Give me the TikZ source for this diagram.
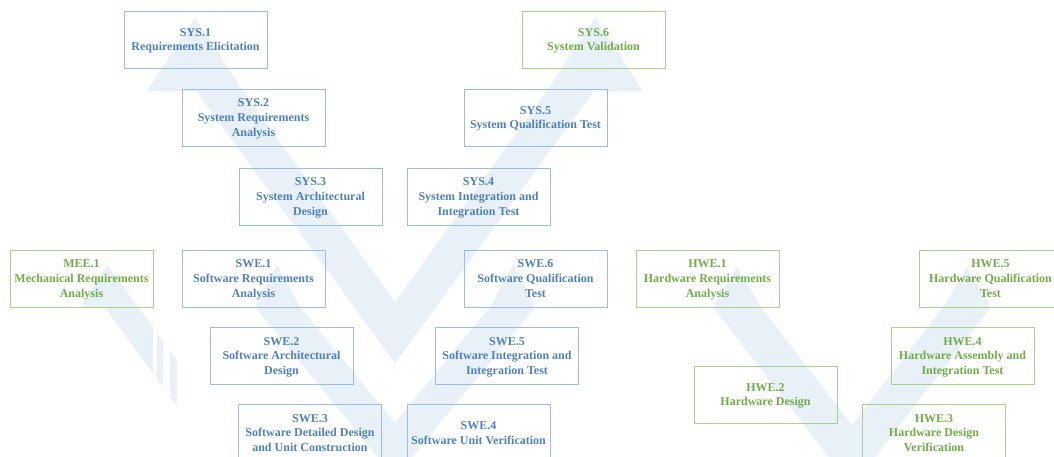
\documentclass[tikz,border=0pt]{standalone}
\usepackage{fontspec}
\setmainfont{Liberation Serif}
\definecolor{vfill}{HTML}{E8F0F8}
\definecolor{bluetext}{HTML}{4F81BD}
\definecolor{blueline}{HTML}{9DBDE0}
\definecolor{greentext}{HTML}{70AD47}
\definecolor{greenline}{HTML}{A9D18E}
% stacked, centred lines of a process box, set on full line boxes
\newcommand{\proc}[1]{\raisebox{-0.8pt}[\height][\depth]{\begin{tabular}{@{}c@{}}#1\end{tabular}}}
\begin{document}
\begin{tikzpicture}[x=0.75pt,y=-0.75pt,
  procbox/.style={draw, line width=0.75pt, minimum width=107.25pt, minimum height=42.75pt,
    inner sep=0pt, font=\fontsize{9}{10.9}\selectfont\bfseries},
  sysbox/.style={procbox, draw=blueline, text=bluetext},
  hwbox/.style={procbox, draw=greenline, text=greentext},
  vband/.style={fill=vfill, draw=none}]
\useasboundingbox (0,0) rectangle (1054,457);
\clip (0,0) rectangle (1054,457);

% system V
\fill[vband] (195,18) -- (243,91) -- (395,302) -- (547,91) -- (595,18) -- (643,91)
  -- (594,91) -- (395,363) -- (196,91) -- (147,91) -- cycle;
% software V
\fill[vband] (277,265) -- (300,307) -- (395,423) -- (490,307) -- (513,265) -- (535,307)
  -- (395,478) -- (255,307) -- cycle;
% hardware V
\fill[vband] (737,267) -- (761,307) -- (852,425) -- (943,307) -- (967,267) -- (991,307)
  -- (852,487) -- (713,307) -- cycle;
% mechanical striped arrow
\fill[vband] (107,265) -- (138,307) -- (153,327.5) -- (153,373.5) -- (104.5,307) -- (82,307) -- cycle;
\fill[vband] (157,333) -- (163,341.3) -- (163,387) -- (157,378.8) -- cycle;
\fill[vband] (170,351) -- (177,360.6) -- (177,406) -- (170,396.6) -- cycle;

% system processes
\node[sysbox] (sys1) at (195.5,39.5) {\proc{SYS.1\\Requirements Elicitation}};
\node[sysbox] (sys2) at (253.5,117.5) {\proc{SYS.2\\System Requirements\\Analysis}};
\node[sysbox] (sys3) at (310.5,196.5) {\proc{SYS.3\\System Architectural\\Design}};
\node[sysbox] (sys4) at (478.5,196.5) {\proc{SYS.4\\System Integration and\\Integration Test}};
\node[sysbox] (sys5) at (535.5,117.5) {\proc{SYS.5\\System Qualification Test}};
\node[hwbox]  (sys6) at (593.5,39.5) {\proc{SYS.6\\System Validation}};

% mechanical
\node[hwbox] (mee1) at (81.5,278.5) {\proc{MEE.1\\Mechanical Requirements\\Analysis}};

% software processes
\node[sysbox] (swe1) at (253.5,278.5) {\proc{SWE.1\\Software Requirements\\Analysis}};
\node[sysbox] (swe2) at (281.5,356) {\proc{SWE.2\\Software Architectural\\Design}};
\node[sysbox] (swe3) at (310,433) {\proc{SWE.3\\Software Detailed Design\\and Unit Construction}};
\node[sysbox] (swe4) at (478.5,433) {\proc{SWE.4\\Software Unit Verification}};
\node[sysbox] (swe5) at (507,356) {\proc{SWE.5\\Software Integration and\\Integration Test}};
\node[sysbox] (swe6) at (535.5,278.5) {\proc{SWE.6\\Software Qualification\\Test}};

% hardware processes
\node[hwbox] (hwe1) at (707.5,278.5) {\proc{HWE.1\\Hardware Requirements\\Analysis}};
\node[hwbox] (hwe2) at (765.5,394.5) {\proc{HWE.2\\Hardware Design}};
\node[hwbox] (hwe3) at (934,433) {\proc{HWE.3\\Hardware Design\\Verification}};
\node[hwbox] (hwe4) at (962.5,356) {\proc{HWE.4\\Hardware Assembly and\\Integration Test}};
\node[hwbox] (hwe5) at (990.5,278.5) {\proc{HWE.5\\Hardware Qualification\\Test}};
\end{tikzpicture}
\end{document}
